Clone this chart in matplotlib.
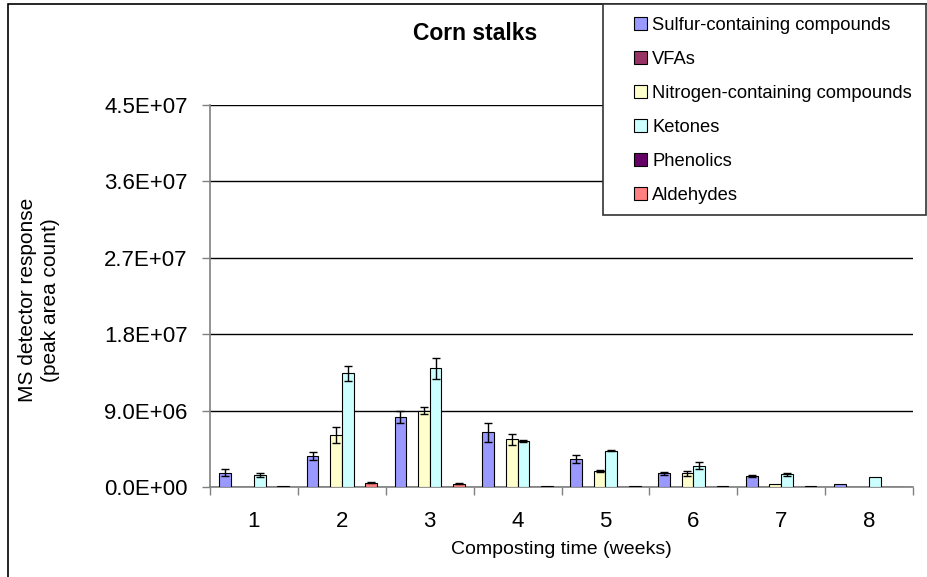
import matplotlib
matplotlib.use("Agg")
import matplotlib.pyplot as plt
from matplotlib.patches import Rectangle, Patch
import numpy as np

plt.rcParams['font.family'] = ['Liberation Sans', 'DejaVu Sans']

weeks = ["1", "2", "3", "4", "5", "6", "7", "8"]

series_names = [
    "Sulfur-containing compounds",
    "VFAs",
    "Nitrogen-containing compounds",
    "Ketones",
    "Phenolics",
    "Aldehydes",
]
series_colors = ["#9999FF", "#993366", "#FFFFCC", "#CCFFFF", "#660066", "#FF8080"]

sulfur = [1.7e6, 3.65e6, 8.25e6, 6.45e6, 3.25e6, 1.6e6, 1.3e6, 0.3e6]
sulfur_err = [0.45e6, 0.43e6, 0.72e6, 1.1e6, 0.47e6, 0.15e6, 0.1e6, 0.0]

vfas = [0, 0, 0, 0, 0, 0, 0, 0]
vfas_err = [0, 0, 0, 0, 0, 0, 0, 0]

nitrogen = [0.0, 6.1e6, 9.0e6, 5.65e6, 1.9e6, 1.6e6, 0.35e6, 0.0]
nitrogen_err = [0.0, 0.95e6, 0.45e6, 0.65e6, 0.1e6, 0.25e6, 0.0, 0.0]

ketones = [1.4e6, 13.4e6, 14.0e6, 5.4e6, 4.25e6, 2.5e6, 1.5e6, 1.15e6]
ketones_err = [0.2e6, 0.9e6, 1.25e6, 0.1e6, 0.05e6, 0.43e6, 0.2e6, 0.0]

phenolics = [0, 0, 0, 0, 0, 0, 0, 0]
phenolics_err = [0, 0, 0, 0, 0, 0, 0, 0]

aldehydes = [0.08e6, 0.5e6, 0.4e6, 0.1e6, 0.1e6, 0.1e6, 0.1e6, 0.0]
aldehydes_err = [0.0, 0.05e6, 0.05e6, 0.0, 0.0, 0.0, 0.0, 0.0]

values = [sulfur, vfas, nitrogen, ketones, phenolics, aldehydes]
errors = [sulfur_err, vfas_err, nitrogen_err, ketones_err, phenolics_err, aldehydes_err]

y_ticks = [0, 9e6, 1.8e7, 2.7e7, 3.6e7, 4.5e7]

W, H = 928, 577
fig = plt.figure(figsize=(W / 100, H / 100), dpi=100)
ax = fig.add_axes([210 / W, 1 - 487 / H, (913 - 210) / W, (487 - 105) / H])

x = np.arange(1, len(weeks) + 1)
bw = 1 / 7.5
for i, (vals, errs, col, name) in enumerate(zip(values, errors, series_colors, series_names)):
    pos = x + (i - 2.5) * bw
    ax.bar(pos, vals, width=bw, color=col, edgecolor="black", linewidth=0.8,
           label=name, zorder=3)
    has_err = np.array(errs) > 0
    if has_err.any():
        ax.errorbar(pos[has_err], np.array(vals)[has_err], yerr=np.array(errs)[has_err],
                    fmt="none", ecolor="black", elinewidth=1.0, capsize=3.2,
                    capthick=1.0, zorder=4)

ax.set_xlim(0.5, len(weeks) + 0.5)
ax.set_ylim(0, 4.5e7)
ax.set_yticks(y_ticks)
ax.set_yticklabels(["%.1E" % v for v in y_ticks])
ax.set_xticks(x)
ax.set_xticklabels(weeks)
ax.set_xticks(np.arange(0.5, len(weeks) + 1, 1.0), minor=True)

ax.yaxis.grid(True, color="black", linewidth=1.0, zorder=0)
ax.set_axisbelow(True)

for s in ["top", "right"]:
    ax.spines[s].set_visible(False)
for s in ["left", "bottom"]:
    ax.spines[s].set_color("#808080")
    ax.spines[s].set_linewidth(1.2)

ax.tick_params(axis="y", direction="out", length=6, color="#808080", width=1.0,
               labelsize=16, pad=10)
ax.tick_params(axis="x", which="major", length=0, labelsize=16, pad=17)
ax.tick_params(axis="x", which="minor", direction="out", length=6, color="#808080", width=1.0)

fig.text(475 / W, 1 - 33 / H, "Corn stalks", fontsize=16.5, fontweight="bold",
         ha="center", va="center")

fig.text(39 / W, 1 - 300 / H, "MS detector response\n(peak area count)", rotation=90,
         ha="center", va="center", fontsize=15, linespacing=1.3)
fig.text(561 / W, 1 - 550 / H, "Composting time (weeks)", ha="center", va="center",
         fontsize=14)

# outer chart frame
fig.patches.append(Rectangle((8 / W, -0.05), 1.1, 1 - 4 / H + 0.05, transform=fig.transFigure,
                             fill=False, edgecolor="black", linewidth=1.2, zorder=0))

# legend box
fig.patches.append(Rectangle((603 / W, 1 - 215 / H), (926 - 603) / W, (215 - 4) / H,
                             transform=fig.transFigure, facecolor="white",
                             edgecolor="#333333", linewidth=1.2, zorder=5))
handles = [Patch(facecolor=c, edgecolor="black", linewidth=0.8) for c in series_colors]
leg = fig.legend(handles, series_names, loc="upper left",
                 bbox_to_anchor=(634 / W, 1 - 17 / H), frameon=False, fontsize=13.2,
                 borderpad=0, borderaxespad=0, handlelength=0.7, handleheight=0.7,
                 handletextpad=0.3, labelspacing=0.93)
leg.set_zorder(6)

fig.savefig("out.png", dpi=100)
